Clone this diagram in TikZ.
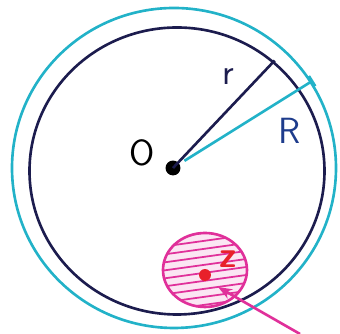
\documentclass[tikz,border=0pt]{standalone}
\usetikzlibrary{arrows.meta, calc}

\definecolor{navy}{HTML}{1C1C4E}
\definecolor{aqua}{HTML}{22B2C8}
\definecolor{rblue}{HTML}{1E3C8C}
\definecolor{pinkz}{HTML}{E0309A}
\definecolor{redz}{HTML}{E8202A}

\begin{document}
\begin{tikzpicture}[
    dot/.style={circle, fill=black, inner sep=3pt},
    reddot/.style={circle, fill=redz, inner sep=2.4pt},
    lbl/.style={font=\sffamily\huge},
    >={Stealth[length=8pt, width=6pt]},
    line width=1.5pt
]
    \useasboundingbox (0,0) rectangle (6.8,6.68);

    % centre and the two circles
    \node[dot] (O) at (3.46, 3.32) {};
    \draw[navy] (3.54, 3.26) ellipse [x radius=2.95, y radius=2.87];
    \draw[aqua] (3.48, 3.32) ellipse [x radius=3.24, y radius=3.2];

    % radius r
    \coordinate (Rr) at ($(O)+(46.6:2.96)$);
    \draw[navy] (O.center) -- (Rr);
    \node[lbl, navy] (rl) at (4.56, 5.14) {r};

    % radius R
    \coordinate (Rs) at ($(O)+(32:0.27)$);
    \coordinate (RR) at ($(O)+(32:3.28)$);
    \draw[aqua] (Rs) -- (RR);
    \draw[aqua] ($(RR)+(122:0.12)$) -- ($(RR)+(302:0.12)$);
    \node[lbl, rblue] (Rl) at (5.8, 4.06) {R};

    \node[lbl] (Ol) at (2.84, 3.62) {O};

    % small disc round z
    \fill[pinkz!12] (4.1, 1.28) ellipse [x radius=0.84, y radius=0.74];
    \begin{scope}
        \clip (4.1, 1.28) ellipse [x radius=0.84, y radius=0.74];
        \foreach \y in {0.3,0.46,...,2.2}
            \draw[pinkz, line width=1pt] (3.2,\y) -- (5.0,\y+0.25);
    \end{scope}
    \draw[pinkz] (4.1, 1.28) ellipse [x radius=0.84, y radius=0.74];
    \node[reddot] (z) at (4.1, 1.18) {};
    \node[font=\sffamily\bfseries\huge, text=redz] (zl) at (4.56, 1.5) {z};

    % arrow
    \coordinate (tail) at (6.0, 0);
    \coordinate (head) at (4.36, 0.94);
    \draw[->, pinkz] (tail) -- (head);
\end{tikzpicture}
\end{document}
